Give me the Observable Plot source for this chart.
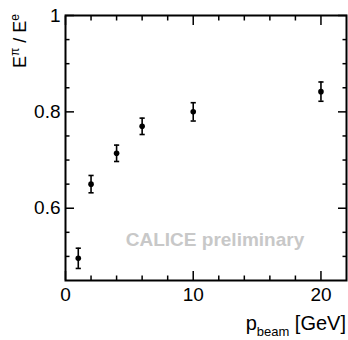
<!DOCTYPE html>
<html>
<head>
<meta charset="utf-8">
<script src="https://cdn.jsdelivr.net/npm/d3@7"></script>
<script src="https://cdn.jsdelivr.net/npm/@observablehq/plot@0.6"></script>
<style>
  body { margin: 0; background: white; }
  #chart svg { display: block; }
</style>
</head>
<body>
<div id="chart"></div>
<script>
const pBeam = [1, 2, 4, 6, 10, 20];
const ratio = [0.496, 0.650, 0.714, 0.770, 0.800, 0.842];
const ratioErr = [0.021, 0.018, 0.017, 0.017, 0.019, 0.020];
const xMajor = [0, 10, 20];
const xMinor = [2, 4, 6, 8, 12, 14, 16, 18];
const yMajor = [0.6, 0.8, 1];
const yMinor = [0.5, 0.55, 0.65, 0.7, 0.75, 0.85, 0.9, 0.95];

const data = pBeam.map((p, i) => ({p, r: ratio[i], lo: ratio[i] - ratioErr[i], hi: ratio[i] + ratioErr[i]}));

const capSymbol = {draw(context) { context.moveTo(-2.6, 0); context.lineTo(2.6, 0); }};

const chart = Plot.plot({
  width: 348,
  height: 340,
  marginLeft: 65,
  marginRight: 2,
  marginTop: 15,
  marginBottom: 60,
  style: {fontFamily: "'Liberation Sans', Arial, sans-serif", fontSize: "19px", background: "white", color: "black"},
  x: {domain: [0, 22], label: null},
  y: {domain: [0.45, 1], label: null},
  marks: [
    Plot.axisX({ticks: xMajor, tickSize: 0, tickPadding: 7, tickFormat: d => String(d), anchor: "bottom", label: null}),
    Plot.axisX({ticks: xMajor, tickSize: -9, text: null, anchor: "bottom", strokeWidth: 1.5, label: null}),
    Plot.axisX({ticks: xMinor, tickSize: -4.5, text: null, anchor: "bottom", strokeWidth: 1.5, label: null}),
    Plot.axisX({ticks: xMajor, tickSize: -9, text: null, anchor: "top", strokeWidth: 1.5, label: null}),
    Plot.axisX({ticks: xMinor, tickSize: -4.5, text: null, anchor: "top", strokeWidth: 1.5, label: null}),
    Plot.axisY({ticks: yMajor, tickSize: 0, tickPadding: 5, tickFormat: d => d === 1 ? "1" : d.toFixed(1), anchor: "left", label: null}),
    Plot.axisY({ticks: yMajor, tickSize: -9, text: null, anchor: "left", strokeWidth: 1.5, label: null}),
    Plot.axisY({ticks: yMinor, tickSize: -4.5, text: null, anchor: "left", strokeWidth: 1.5, label: null}),
    Plot.axisY({ticks: yMajor, tickSize: -9, text: null, anchor: "right", strokeWidth: 1.5, label: null}),
    Plot.axisY({ticks: yMinor, tickSize: -4.5, text: null, anchor: "right", strokeWidth: 1.5, label: null}),
    Plot.frame({stroke: "black", strokeWidth: 2}),
    Plot.ruleX(data, {x: "p", y1: "lo", y2: "hi", stroke: "black", strokeWidth: 1.6}),
    Plot.dot(data, {x: "p", y: "lo", symbol: capSymbol, stroke: "black", strokeWidth: 1.6, fill: "none"}),
    Plot.dot(data, {x: "p", y: "hi", symbol: capSymbol, stroke: "black", strokeWidth: 1.6, fill: "none"}),
    Plot.dot(data, {x: "p", y: "r", r: 2.8, fill: "black", stroke: null})
  ]
});

const svg = d3.select(chart);
// y-axis label
const yl = svg.append("text")
  .attr("transform", "translate(26,14) rotate(-90)")
  .attr("text-anchor", "end")
  .attr("font-size", 18)
  .attr("fill", "black");
yl.append("tspan").text("E");
yl.append("tspan").attr("dy", -7).attr("font-size", 12).text("π");
yl.append("tspan").attr("dy", 7).text(" / E");
yl.append("tspan").attr("dy", -7).attr("font-size", 12).text("e");

// x-axis label
const xl = svg.append("text")
  .attr("x", 346)
  .attr("y", 330)
  .attr("text-anchor", "end")
  .attr("font-size", 20)
  .attr("fill", "black");
xl.append("tspan").text("p");
xl.append("tspan").attr("dy", 6).attr("font-size", 13).text("beam");
xl.append("tspan").attr("dy", -6).text(" [GeV]");

// watermark
svg.append("text")
  .attr("x", 215)
  .attr("y", 246)
  .attr("text-anchor", "middle")
  .attr("font-size", 19)
  .attr("font-weight", "bold")
  .attr("fill", "#c8c8c8")
  .text("CALICE preliminary");

document.getElementById("chart").appendChild(chart);
</script>
</body>
</html>
